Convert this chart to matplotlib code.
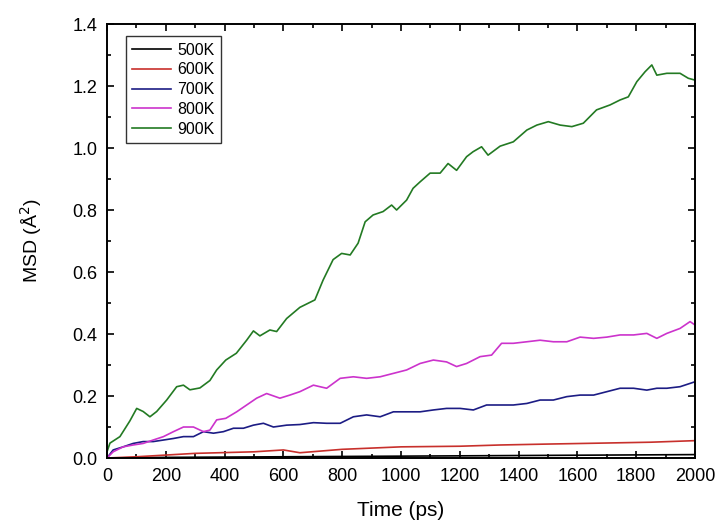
import matplotlib
matplotlib.use("Agg")
import matplotlib.pyplot as plt
from matplotlib.ticker import MultipleLocator

plt.rcParams["font.family"] = ["Liberation Sans", "DejaVu Sans"]

# MSD curves (time in ps, MSD in A^2)
t_900 = [0, 10, 44, 78, 101, 123, 146, 169, 203, 237, 260, 282, 316, 350, 373,
         404, 440, 475, 498, 520, 554, 577, 611, 656, 707, 735, 769, 798, 827,
         854, 878, 905, 939, 968, 985, 1019, 1041, 1065, 1099, 1133, 1160, 1189,
         1223, 1245, 1274, 1296, 1337, 1382, 1428, 1462, 1501, 1541, 1581, 1620,
         1665, 1711, 1745, 1773, 1802, 1830, 1853, 1870, 1904, 1949, 1977, 2000]
msd_900 = [0.02, 0.048, 0.069, 0.12, 0.16, 0.15, 0.133, 0.15, 0.187, 0.23,
           0.235, 0.22, 0.226, 0.25, 0.284, 0.316, 0.338, 0.38, 0.41, 0.394,
           0.413, 0.408, 0.45, 0.486, 0.51, 0.574, 0.64, 0.66, 0.655, 0.693,
           0.762, 0.784, 0.795, 0.816, 0.8, 0.832, 0.87, 0.891, 0.919, 0.919,
           0.95, 0.928, 0.972, 0.988, 1.004, 0.977, 1.006, 1.02, 1.058, 1.074,
           1.085, 1.074, 1.069, 1.08, 1.123, 1.139, 1.155, 1.165, 1.214, 1.246,
           1.268, 1.235, 1.241, 1.241, 1.225, 1.219]

t_800 = [0, 21, 55, 89, 123, 157, 192, 226, 260, 294, 328, 350, 373, 404, 441,
         475, 509, 543, 588, 622, 656, 702, 747, 793, 838, 883, 929, 974, 1019,
         1065, 1110, 1155, 1189, 1223, 1269, 1308, 1342, 1382, 1428, 1473, 1518,
         1564, 1609, 1655, 1700, 1745, 1791, 1836, 1870, 1904, 1949, 1983, 2000]
msd_800 = [0.0, 0.02, 0.036, 0.042, 0.047, 0.058, 0.069, 0.085, 0.1, 0.1,
           0.085, 0.09, 0.123, 0.128, 0.149, 0.171, 0.193, 0.208, 0.193, 0.203,
           0.214, 0.235, 0.225, 0.257, 0.262, 0.257, 0.262, 0.273, 0.284, 0.305,
           0.316, 0.31, 0.295, 0.305, 0.327, 0.332, 0.37, 0.37, 0.375, 0.38,
           0.375, 0.375, 0.39, 0.386, 0.39, 0.397, 0.397, 0.402, 0.386, 0.402,
           0.418, 0.44, 0.429]

t_700 = [0, 21, 55, 89, 123, 157, 192, 226, 260, 294, 328, 362, 396, 430, 464,
         498, 532, 566, 611, 656, 702, 747, 793, 838, 883, 929, 974, 1019, 1065,
         1110, 1155, 1201, 1246, 1291, 1337, 1382, 1428, 1473, 1518, 1564, 1609,
         1655, 1700, 1745, 1791, 1836, 1870, 1904, 1949, 2000]
msd_700 = [0.0, 0.026, 0.036, 0.047, 0.053, 0.053, 0.058, 0.063, 0.069, 0.069,
           0.085, 0.08, 0.085, 0.096, 0.096, 0.106, 0.112, 0.1, 0.106, 0.108,
           0.114, 0.112, 0.112, 0.133, 0.139, 0.133, 0.149, 0.149, 0.149, 0.155,
           0.16, 0.16, 0.155, 0.171, 0.171, 0.171, 0.176, 0.187, 0.187, 0.198,
           0.203, 0.203, 0.214, 0.225, 0.225, 0.219, 0.225, 0.225, 0.23, 0.246]

t_600 = [0, 100, 300, 500, 600, 656, 800, 1000, 1200, 1337, 1500, 1678, 1850, 2000]
msd_600 = [0.0, 0.004, 0.015, 0.02, 0.026, 0.017, 0.028, 0.036, 0.038, 0.042,
           0.045, 0.048, 0.051, 0.056]

t_500 = [0, 200, 400, 600, 800, 1000, 1200, 1400, 1600, 1800, 2000]
msd_500 = [0.0, 0.002, 0.003, 0.004, 0.005, 0.006, 0.007, 0.008, 0.009, 0.01, 0.011]

labels = ["500K", "600K", "700K", "800K", "900K"]
colors = ["black", "#c8302c", "#1c1c84", "#cc33cc", "#237a23"]

fig = plt.figure(figsize=(7.21, 5.29), dpi=100)
ax = fig.add_axes([0.1484, 0.1342, 0.8156, 0.8204])

series = [(t_500, msd_500), (t_600, msd_600), (t_700, msd_700),
          (t_800, msd_800), (t_900, msd_900)]
for (t, m), lab, c in zip(series, labels, colors):
    ax.plot(t, m, color=c, lw=1.2, label=lab)

ax.set_xlim(0, 2000)
ax.set_ylim(0, 1.4)
ax.xaxis.set_major_locator(MultipleLocator(200))
ax.xaxis.set_minor_locator(MultipleLocator(100))
ax.yaxis.set_major_locator(MultipleLocator(0.2))
ax.yaxis.set_minor_locator(MultipleLocator(0.1))
ax.yaxis.set_major_formatter(plt.FormatStrFormatter("%.1f"))
ax.tick_params(which="both", direction="in", top=True, right=True,
               labelsize=13, width=1.2, pad=7)
ax.tick_params(which="major", length=5)
ax.tick_params(which="minor", length=3)
for sp in ax.spines.values():
    sp.set_linewidth(1.4)

ax.set_xlabel("Time (ps)", fontsize=15, labelpad=12)
ax.set_ylabel("MSD (Å$^2$)", fontsize=14, labelpad=20)

leg = ax.legend(loc="upper left", bbox_to_anchor=(0.032, 0.972), fontsize=11.5,
                fancybox=False, edgecolor="black", handlelength=2.4,
                labelspacing=0.3, borderpad=0.4, handletextpad=0.4,
                borderaxespad=0)
leg.get_frame().set_linewidth(1.0)

fig.savefig("out.png", dpi=100)
